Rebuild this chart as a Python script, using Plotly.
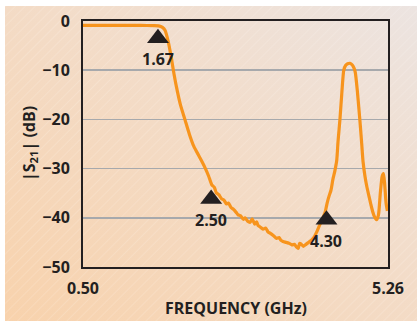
import base64
import plotly.graph_objects as go

# ---- data ----
freq_ghz = [0.50, 0.80, 1.10, 1.40, 1.60, 1.68, 1.74, 1.78, 1.83, 1.88, 1.91, 1.96,
            2.02, 2.09, 2.16, 2.23, 2.30, 2.35, 2.40, 2.46, 2.51, 2.55, 2.58, 2.62,
            2.66, 2.70, 2.74, 2.77, 2.81, 2.85, 2.89, 2.92, 2.96, 3.00, 3.03, 3.07,
            3.11, 3.14, 3.18, 3.21, 3.23, 3.27, 3.31, 3.35, 3.39, 3.42, 3.47, 3.52,
            3.56, 3.59, 3.62, 3.67, 3.72, 3.76, 3.80, 3.83, 3.86, 3.88, 3.90, 3.94,
            3.98, 4.03, 4.07, 4.11, 4.15, 4.19, 4.22, 4.25, 4.28, 4.31, 4.34, 4.37,
            4.40, 4.43, 4.46, 4.48, 4.51, 4.54, 4.57, 4.60, 4.63, 4.667, 4.70, 4.73,
            4.75, 4.78, 4.82, 4.85, 4.87, 4.90, 4.93, 4.97, 5.00, 5.04, 5.08, 5.11,
            5.14, 5.17, 5.19, 5.21, 5.23, 5.25]
s21_db = [-0.9, -0.9, -0.9, -0.9, -0.95, -1.0, -1.3, -1.9, -4.2, -7.6, -10.0, -13.5,
          -17.0, -20.0, -23.0, -25.5, -27.2, -28.4, -29.7, -31.5, -33.3, -33.8, -34.9, -35.3,
          -36.1, -36.4, -37.2, -37.0, -37.9, -38.3, -38.9, -39.4, -39.6, -40.3, -40.0, -40.7,
          -40.9, -40.2, -41.3, -40.8, -41.5, -41.9, -42.3, -42.1, -42.9, -43.1, -43.6, -44.2,
          -44.0, -44.6, -44.8, -45.0, -45.2, -45.5, -45.4, -45.9, -46.2, -45.2, -45.3, -45.8,
          -45.4, -44.9, -44.5, -43.9, -42.8, -41.6, -40.8, -39.8, -38.8, -37.0, -35.6, -34.4,
          -32.2, -30.5, -28.3, -24.5, -20.0, -14.5, -10.0, -9.0, -8.7, -8.6, -8.9, -9.6,
          -10.5, -14.0, -20.0, -25.0, -28.5, -31.5, -33.7, -36.0, -37.7, -39.5, -40.4, -39.5,
          -35.0, -31.5, -31.0, -33.5, -37.0, -38.6]

marker_freqs = [1.67, 2.50, 4.30]
marker_levels = [-3.5, -36.2, -40.4]
marker_labels = ["1.67", "2.50", "4.30"]

y_ticks = [0, -10, -20, -30, -40, -50]
y_tick_labels = ["0", "\u221210", "\u221220", "\u221230", "\u221240", "\u221250"]
x_ticks = [0.50, 5.26]
x_tick_labels = ["0.50", "5.26"]

# ---- background decoration (gradient + fine diagonal hatch) ----
svg = """<svg xmlns='http://www.w3.org/2000/svg' width='412' height='315' viewBox='0 0 412 315'>
<defs>
<linearGradient id='g' x1='0' y1='1' x2='1' y2='0'>
<stop offset='0' stop-color='#F8D2AC'/>
<stop offset='0.55' stop-color='#F3DCC8'/>
<stop offset='1' stop-color='#ECE4E1'/>
</linearGradient>
<pattern id='p' width='7' height='7' patternUnits='userSpaceOnUse' patternTransform='rotate(45)'>
<line x1='0' y1='0' x2='0' y2='7' stroke='#FFFFFF' stroke-opacity='0.3' stroke-width='1'/>
</pattern>
</defs>
<rect width='412' height='315' fill='url(#g)'/>
<rect width='412' height='315' fill='url(#p)'/>
</svg>"""
svg_uri = "data:image/svg+xml;base64," + base64.b64encode(svg.encode()).decode()

FONT = "Open Sans"
DARK = "#231F20"
ORANGE = "#F7941D"
bold = dict(family=FONT, color=DARK, weight="bold")

fig = go.Figure()
fig.add_trace(go.Scatter(
    x=freq_ghz, y=s21_db, mode="lines",
    line=dict(color=ORANGE, width=3.2, shape="spline", smoothing=0.6),
    hoverinfo="skip", showlegend=False))
fig.add_trace(go.Scatter(
    x=marker_freqs, y=marker_levels, mode="markers",
    marker=dict(symbol="triangle-up", size=19, color=DARK),
    hoverinfo="skip", showlegend=False))

annotations = [dict(x=f, y=v, xref="x", yref="y", text=t, showarrow=False,
                    yshift=-21, font=dict(size=16, **bold))
               for f, v, t in zip(marker_freqs, marker_levels, marker_labels)]
annotations.append(dict(text="FREQUENCY (GHz)", xref="paper", yref="paper",
                        x=0.5, y=-41 / 246, showarrow=False,
                        xanchor="center", yanchor="middle",
                        font=dict(size=16, **bold)))
annotations.append(dict(text="|S<sub>21</sub>| (dB)", xref="paper", yref="paper",
                        x=-54 / 305, y=0.5, showarrow=False, textangle=-90,
                        xanchor="center", yanchor="middle",
                        font=dict(size=16, **bold)))

fig.update_layout(
    width=417, height=321,
    margin=dict(l=83, r=29, t=21, b=54, autoexpand=False),
    paper_bgcolor="white", plot_bgcolor="white",
    images=[dict(source=svg_uri, xref="paper", yref="paper",
                 x=-78/305, y=1 + 15/246, sizex=412/305, sizey=315/246,
                 xanchor="left", yanchor="top", sizing="stretch", layer="below")],
    annotations=annotations,
    xaxis=dict(range=[0.50, 5.26], tickvals=x_ticks, ticktext=x_tick_labels,
               showgrid=False, zeroline=False, showline=True, mirror=True,
               linecolor=DARK, linewidth=2, ticks="", ticklabelstandoff=6,
               automargin=False,
               tickfont=dict(size=16, **bold)),
    yaxis=dict(range=[-50, 0], tickvals=y_ticks, ticktext=y_tick_labels,
               showgrid=True, gridcolor="#A7A9AC", gridwidth=1.5, zeroline=False,
               showline=True, mirror=True, linecolor=DARK, linewidth=2,
               ticks="", ticklabelstandoff=8, automargin=False,
               tickfont=dict(size=16, **bold)),
)

fig.write_html("out.html",
               config={"displayModeBar": False, "staticPlot": True},
               post_script="document.body.style.margin='0px';document.body.style.padding='0px';")
